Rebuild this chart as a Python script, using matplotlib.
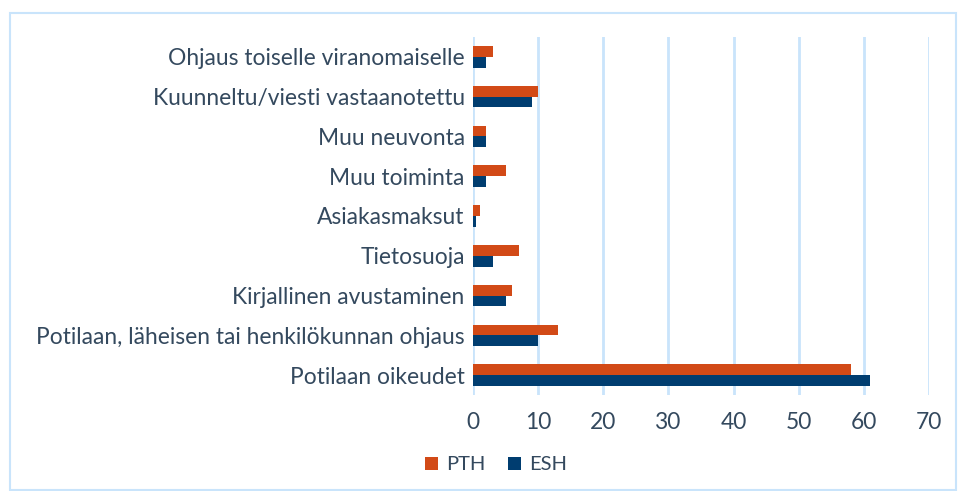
import numpy as np
import matplotlib.pyplot as plt
from matplotlib.patches import Rectangle

categories = ['Ohjaus toiselle viranomaiselle', 'Kuunneltu/viesti vastaanotettu',
              'Muu neuvonta', 'Muu toiminta', 'Asiakasmaksut', 'Tietosuoja',
              'Kirjallinen avustaminen', 'Potilaan, läheisen tai henkilökunnan ohjaus',
              'Potilaan oikeudet']
pth = [3, 10, 2, 5, 1, 7, 6, 13, 58]
esh = [2, 9, 2, 2, 0.5, 3, 5, 10, 61]
xticks = [0, 10, 20, 30, 40, 50, 60, 70]

plt.rcParams['font.family'] = ['Lato', 'DejaVu Sans']
text_col = '#34495e'
grid_col = '#c9e4fb'

fig = plt.figure(figsize=(9.59, 4.91), dpi=100)
ax = fig.add_axes([473/959, 1-395/491, (929-473)/959, (395-37)/491])

y = np.arange(len(categories))
h = 0.27
ax.barh(y - h/2, pth, height=h, color='#d24a17', label='PTH', zorder=3)
ax.barh(y + h/2, esh, height=h, color='#003d70', label='ESH', zorder=3)

ax.set_xlim(0, 70)
ax.set_ylim(len(categories) - 0.5, -0.5)
ax.set_xticks(xticks)
ax.set_yticks(y)
ax.set_yticklabels(categories)
for v in xticks:
    ax.axvline(v, color=grid_col, lw=2, zorder=1)
for s in ax.spines.values():
    s.set_visible(False)
ax.tick_params(length=0, colors=text_col, labelsize=16.4)
ax.tick_params(axis='x', pad=12)
ax.tick_params(axis='y', pad=6)

fig.legend(loc='center', bbox_to_anchor=(496/959, 1-465/491),
           ncol=2, frameon=False, fontsize=14.5, handlelength=0.65, handleheight=0.65,
           columnspacing=1.1, handletextpad=0.4, labelcolor=text_col)

fig.patches.append(Rectangle((10/959, 0.002), 946/959, 1-13/491-0.002,
                             transform=fig.transFigure, fill=False,
                             edgecolor=grid_col, lw=1.5))

plt.savefig('out.png')
